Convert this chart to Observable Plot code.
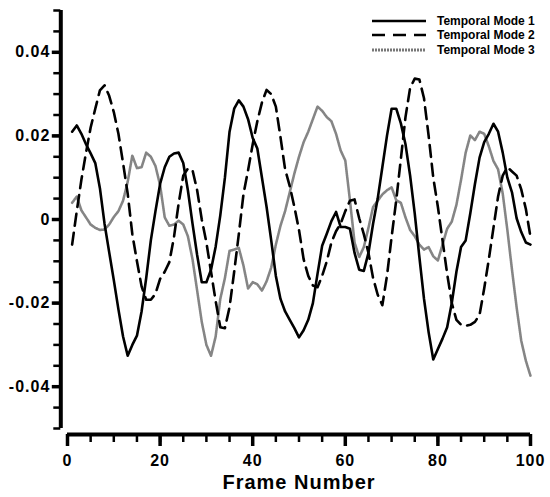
<!DOCTYPE html>
<html>
<head>
<meta charset="utf-8">
<script src="https://cdn.jsdelivr.net/npm/d3@7"></script>
<script src="https://cdn.jsdelivr.net/npm/@observablehq/plot@0.6"></script>
<style>
  body { margin: 0; background: #fff; }
  #wrap { position: relative; width: 550px; height: 497px; overflow: hidden; }
  #wrap svg text { letter-spacing: 1px; }
  .lg { position: absolute; left: 372px; font: bold 12px "Liberation Sans", Arial, sans-serif; color: #000; display: flex; align-items: center; height: 14px; }
  .lg svg { width: 54px; height: 6px; margin-right: 11px; }
</style>
</head>
<body>
<div id="wrap"></div>
<script>
const frames = d3.range(1, 101);
const mode1 = [
  0.021, 0.0225, 0.0205, 0.018, 0.0158, 0.0135, 0.0075, -0.001, -0.0078, -0.0145,
  -0.0215, -0.028, -0.0326, -0.030, -0.0278, -0.022, -0.014, -0.005, 0.002, 0.0085,
  0.0125, 0.015, 0.0158, 0.016, 0.0135, 0.007, -0.001, -0.0085, -0.015, -0.015,
  -0.012, -0.0065, 0.001, 0.010, 0.021, 0.0265, 0.0285, 0.027, 0.024, 0.0195,
  0.017, 0.010, 0.003, -0.005, -0.0135, -0.019, -0.022, -0.024, -0.026, -0.0282,
  -0.0265, -0.024, -0.020, -0.013, -0.0063, -0.0034, -0.0004, 0.0018, -0.0018, -0.0018,
  -0.0022, -0.008, -0.012, -0.0123, -0.008, -0.001, 0.005, 0.0125, 0.020, 0.0265,
  0.0265, 0.023, 0.018, 0.0105, 0.0014, -0.009, -0.019, -0.027, -0.0335, -0.031,
  -0.0285, -0.0258, -0.020, -0.0125, -0.0066, -0.005, 0.0015, 0.0085, 0.0148, 0.0185,
  0.0205, 0.0229, 0.021, 0.016, 0.010, 0.0065, 0.0003, -0.003, -0.0055, -0.006
];
const mode2 = [
  -0.006, 0.002, 0.0095, 0.016, 0.022, 0.0265, 0.0309, 0.0321, 0.0296, 0.0257,
  0.0205, 0.0135, 0.0062, -0.0035, -0.010, -0.016, -0.0192, -0.0192, -0.0178, -0.0142,
  -0.0125, -0.0102, -0.0042, 0.0038, 0.0105, 0.0122, 0.0118, 0.007, 0.0, -0.0055,
  -0.0125, -0.0195, -0.0258, -0.026, -0.021, -0.0125, -0.0035, 0.006, 0.0118, 0.018,
  0.0235, 0.028, 0.031, 0.030, 0.027, 0.0197, 0.012, 0.008, 0.003, -0.0025,
  -0.0095, -0.0135, -0.0158, -0.0162, -0.0135, -0.010, -0.0055, -0.0028, -0.001, 0.002,
  0.0045, 0.0048, 0.0003, -0.0035, -0.008, -0.014, -0.018, -0.0205, -0.0135, -0.0042,
  0.0046, 0.0145, 0.0245, 0.0315, 0.0337, 0.0335, 0.029, 0.020, 0.010, 0.003,
  -0.005, -0.013, -0.020, -0.024, -0.0252, -0.0254, -0.0252, -0.0245, -0.0228, -0.0165,
  -0.0095, -0.002, 0.0055, 0.0105, 0.0125, 0.0115, 0.0105, 0.0072, 0.0025, -0.0042
];
const mode3 = [
  0.004, 0.0055, 0.0022, 0.0005, -0.0012, -0.002, -0.0025, -0.0024, -0.0012, 0.0006,
  0.002, 0.0045, 0.009, 0.0153, 0.0123, 0.0125, 0.016, 0.015, 0.0128, 0.0082,
  0.0005, -0.0015, -0.0012, -0.0003, -0.0012, -0.004, -0.0095, -0.017, -0.0245, -0.030,
  -0.0326, -0.028, -0.019, -0.014, -0.0075, -0.0072, -0.0068, -0.011, -0.0165, -0.015,
  -0.0155, -0.017, -0.0148, -0.0115, -0.006, -0.0015, 0.002, 0.0065, 0.011, 0.015,
  0.0185, 0.021, 0.024, 0.027, 0.026, 0.0245, 0.0235, 0.0205, 0.0165, 0.0141,
  0.0046, -0.0055, -0.009, -0.0066, -0.002, 0.003, 0.0045, 0.006, 0.007, 0.0077,
  0.0046, 0.004, 0.0005, -0.0025, -0.004, -0.006, -0.0072, -0.0066, -0.0088, -0.0098,
  -0.006, -0.0022, -0.0005, 0.0035, 0.0095, 0.016, 0.0201, 0.019, 0.021, 0.0205,
  0.0175, 0.014, 0.012, 0.0062, -0.0025, -0.012, -0.021, -0.029, -0.0338, -0.0374
];
const seriesNames = ["Temporal Mode 1", "Temporal Mode 2", "Temporal Mode 3"];
const yTicks = [-0.04, -0.02, 0, 0.02, 0.04];
const yMinorTicks = d3.range(-10, 11).map(k => k * 0.005);
const xTicks = [0, 20, 40, 60, 80, 100];
const xMinorTicks = d3.range(0, 101, 5);
const xTitle = "Frame Number";

const styles = [
  {stroke: "#000", strokeWidth: 2.6, strokeDasharray: null},
  {stroke: "#000", strokeWidth: 2.6, strokeDasharray: "12,7"},
  {stroke: "#858585", strokeWidth: 2.6, strokeDasharray: "1.2,0.8"}
];

const series = [mode1, mode2, mode3].map((vals, s) =>
  frames.map((f, i) => ({frame: f, value: vals[i], mode: seriesNames[s]})));

const fmt = d => d === 0 ? "0" : String(d);
const font = '"Liberation Sans", Arial, sans-serif';

const chart = Plot.plot({
  width: 550,
  height: 497,
  marginLeft: 67,
  marginRight: 20,
  marginTop: 10,
  marginBottom: 69,
  x: {domain: [0, 100]},
  y: {domain: [-0.05, 0.05]},
  style: {fontFamily: font, background: "white", color: "black", overflow: "visible"},
  marks: [
    // y axis line and ticks
    Plot.ruleX([0], {y1: -0.05, y2: 0.05, dx: -6.7, stroke: "black", strokeWidth: 4}),
    Plot.axisY({ticks: yMinorTicks, tickSize: 7, tickFormat: () => "", strokeWidth: 2.5, dx: -6.7, label: null}),
    Plot.axisY({ticks: yTicks, tickSize: 8.5, tickPadding: 2, tickFormat: fmt, fontSize: 16, fontWeight: "bold", strokeWidth: 3.5, dx: -6.7, label: null}),
    // x axis line and ticks
    Plot.ruleY([-0.05], {x1: 0, x2: 100, dy: 6, stroke: "black", strokeWidth: 4}),
    Plot.axisX({ticks: xMinorTicks, tickSize: 8, tickFormat: () => "", strokeWidth: 2.5, dy: 6, label: null}),
    Plot.axisX({ticks: xTicks, tickSize: 12, tickPadding: 8, tickFormat: fmt, fontSize: 16, fontWeight: "bold", strokeWidth: 3.5, dy: 6, label: null}),
    Plot.text([xTitle], {frameAnchor: "bottom", dy: 53.6, fontSize: 20, fontWeight: "bold", lineAnchor: "middle"}),
    // series
    Plot.line(series[2], {x: "frame", y: "value", ...styles[2]}),
    Plot.line(series[1], {x: "frame", y: "value", ...styles[1]}),
    Plot.line(series[0], {x: "frame", y: "value", ...styles[0]})
  ]
});

const wrap = document.getElementById("wrap");
wrap.appendChild(chart);

// legend (top right, inside the plot area)
const rowTops = [14, 28, 43];
seriesNames.forEach((name, i) => {
  const row = document.createElement("div");
  row.className = "lg";
  row.style.top = rowTops[i] + "px";
  const st = styles[i];
  const dash = i === 1 ? ' stroke-dasharray="13,8"' : (i === 2 ? ' stroke-dasharray="2,1"' : "");
  const color = i === 2 ? "#777" : st.stroke;
  row.innerHTML = `<svg viewBox="0 0 54 6"><line x1="0" y1="3" x2="54" y2="3" stroke="${color}" stroke-width="${i === 2 ? 3 : 2.6}"${dash}/></svg><span>${name}</span>`;
  wrap.appendChild(row);
});
</script>
</body>
</html>
